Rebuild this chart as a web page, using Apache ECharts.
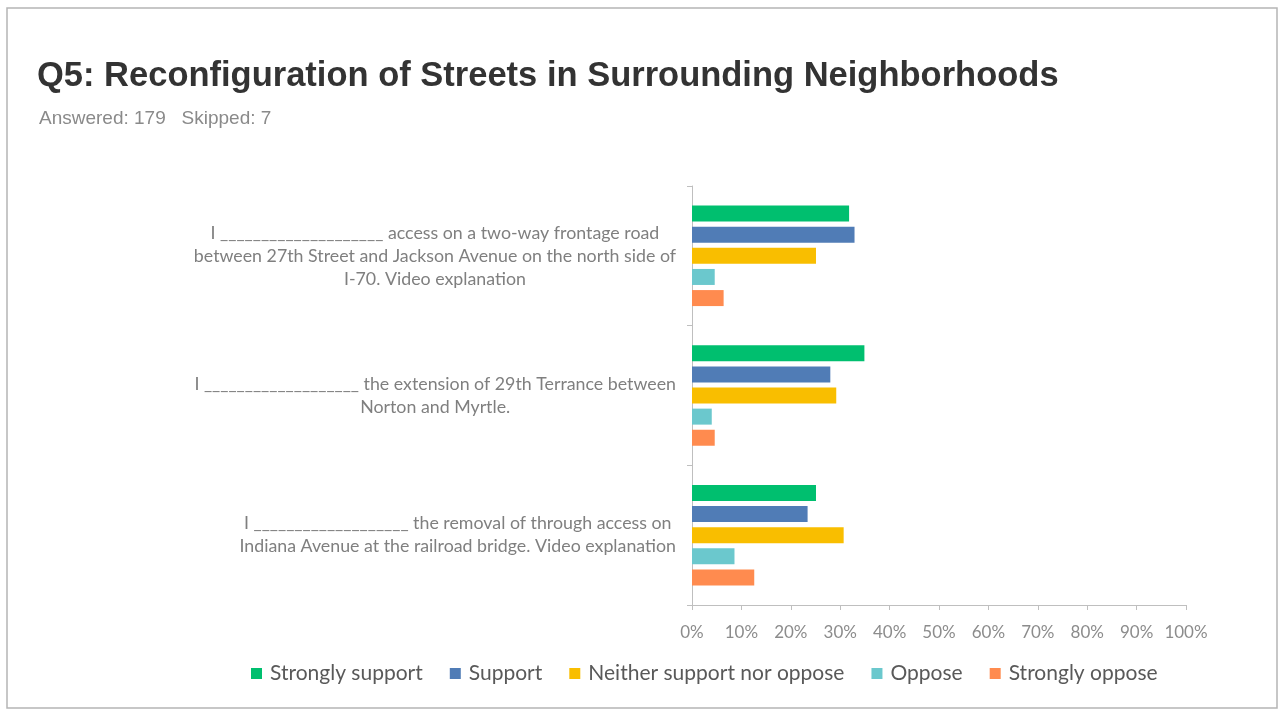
<!DOCTYPE html>
<html>
<head>
<meta charset="utf-8">
<title>Q5: Reconfiguration of Streets in Surrounding Neighborhoods</title>
<script src="https://cdn.jsdelivr.net/npm/echarts@6/dist/echarts.min.js"></script>
<style>
  html, body { margin: 0; padding: 0; background: #ffffff; }
  #chart { width: 1279px; height: 709px; }
</style>
</head>
<body>
<div id="chart"></div>
<script>
// Survey statements (each entry is the lines of one label)
const categories = [
  ['I ____________________ access on a two-way frontage road',
   'between 27th Street and Jackson Avenue on the north side of',
   'I-70. Video explanation'],
  ['I ___________________ the extension of 29th Terrance between',
   'Norton and Myrtle.'],
  ['I ___________________ the removal of through access on',
   'Indiana Avenue at the railroad bridge. Video explanation']
];

const seriesNames = ['Strongly support', 'Support', 'Neither support nor oppose', 'Oppose', 'Strongly oppose'];

// Share of respondents (%) per statement
const stronglySupport = [31.8, 34.9, 25.1];
const support         = [32.9, 28.0, 23.4];
const neither         = [25.1, 29.2, 30.7];
const oppose          = [4.6, 4.0, 8.6];
const stronglyOppose  = [6.4, 4.6, 12.6];

const xTicks = [0, 10, 20, 30, 40, 50, 60, 70, 80, 90, 100];

const colors = ['#00BF6F', '#507CB6', '#F9BE00', '#6BC8CD', '#FF8B4F'];
const values = [stronglySupport, support, neither, oppose, stronglyOppose];

const labelFont = 'Lato, "Open Sans", sans-serif';
const headFont = '"Liberation Sans", Arial, sans-serif';

const chart = echarts.init(document.getElementById('chart'), null, { renderer: 'canvas' });

chart.setOption({
  backgroundColor: '#ffffff',
  animation: false,
  color: colors,
  graphic: [{
    type: 'rect',
    shape: { x: 7, y: 8, width: 1270, height: 700 },
    style: { fill: 'none', stroke: '#b5b5b5', lineWidth: 1.5 },
    silent: true
  }],
  title: [{
    text: 'Q5: Reconfiguration of Streets in Surrounding Neighborhoods',
    left: 37,
    top: 59,
    padding: 0,
    textStyle: { fontFamily: headFont, fontSize: 34.5, fontWeight: 'bold', color: '#333333' }
  }, {
    text: 'Answered: 179   Skipped: 7',
    left: 39,
    top: 109,
    padding: 0,
    textStyle: { fontFamily: headFont, fontSize: 19, fontWeight: 'normal', color: '#8a8a8a' }
  }],
  legend: {
    data: seriesNames,
    left: 246,
    top: 658,
    icon: 'rect',
    itemWidth: 11,
    itemHeight: 11,
    itemGap: 27,
    textStyle: { fontFamily: labelFont, fontSize: 21, color: '#595959', padding: [0, 0, 0, 3] }
  },
  grid: { left: 692, right: 93, top: 186, bottom: 104, containLabel: false },
  xAxis: {
    type: 'value',
    min: xTicks[0],
    max: xTicks[xTicks.length - 1],
    interval: 10,
    axisLine: { show: true, lineStyle: { color: '#bfbfbf', width: 1 } },
    axisTick: { show: true, length: 5, lineStyle: { color: '#bfbfbf' } },
    splitLine: { show: false },
    axisLabel: {
      margin: 19,
      formatter: '{value}%',
      fontFamily: labelFont,
      fontSize: 17,
      color: '#8c8c8c'
    }
  },
  yAxis: {
    type: 'category',
    inverse: true,
    data: categories.map(lines => lines.join('\n')),
    axisLine: { show: true, lineStyle: { color: '#bfbfbf', width: 1 } },
    axisTick: { show: true, length: 5, lineStyle: { color: '#bfbfbf' } },
    splitLine: { show: false },
    axisLabel: {
      margin: 16,
      align: 'right',
      formatter: (v) => v.split('\n').map(l => '{c|' + l + '}').join('\n'),
      rich: {
        c: { align: 'center', fontFamily: labelFont, fontSize: 17.8, lineHeight: 23, color: '#7f7f7f' }
      }
    }
  },
  series: seriesNames.map((name, i) => ({
    name: name,
    type: 'bar',
    data: values[i],
    barWidth: 16,
    barGap: '32%',
    itemStyle: { color: colors[i] }
  }))
});
</script>
</body>
</html>
